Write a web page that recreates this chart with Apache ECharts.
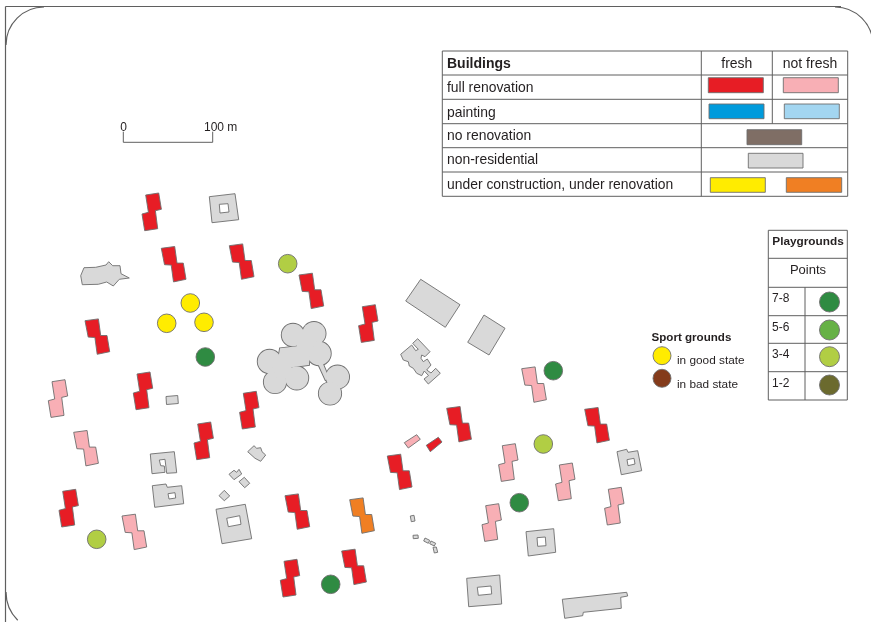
<!DOCTYPE html>
<html>
<head>
<meta charset="utf-8">
<style>html,body{margin:0;padding:0;background:#fff}#c{width:871px;height:622px;filter:blur(0.3px)}</style>
<script src="https://cdn.jsdelivr.net/npm/echarts@6/dist/echarts.min.js"></script>
</head>
<body>
<div id="c"></div>
<script>
// ---- map data, in map units (1 unit = 1 px of the sheet) ----
const footprintA = [[0,0],[13.4,-1.8],[15.7,14.8],[22,14.8],[24.7,31],[12.2,33.6],[9.9,16.8],[3.2,16.4]];
const footprintB = [[0,0],[13,-2],[15.7,14.3],[9.7,15.7],[12,33.7],[-1,35.7],[-3.7,19],[2.7,17.3]];

const freshFullA = [[161.3,248.3],[229.3,245.7],[85,320.7],[299,275],[387.3,456],[285,495.7],[341.7,551],[446.7,408.3],[584.7,409.3]];
const freshFullB = [[145.7,195],[137,374],[362.3,306.7],[243.3,393.3],[197.7,424],[62.7,491.3],[284,561.3]];
const staleFullA = [[73.7,432.3],[122,516],[521.7,368.7]];
const staleFullB = [[52,381.7],[502.3,445.7],[559.3,465],[485.7,505.7],[608.3,489.3]];
const staleRenovationA = [[349.7,499.7]];

const smallStale = [[[404.3,442.7],[416.7,434.7],[420.3,439.3],[408.3,448]]];
const smallFresh = [[[426.3,445.3],[438.3,437.3],[442,442],[430.3,451.7]]];

const nonResidential = [
  [[209.3,196.7],[235,193.7],[238.7,219.7],[212,222.7]],
  [[80.7,275.7],[84,267.7],[95.7,267.3],[106,265],[108.7,261.7],[112.7,265.7],[120,265.7],[121,273.7],[129.3,278],[119.3,279.3],[113.3,286],[106.7,282],[98.3,284.3],[82.3,284.7]],
  [[420.7,279.3],[460,304.7],[445.3,327.3],[405.7,301]],
  [[484,315],[505,328.3],[489,355],[467.7,342.3]],
  [[400.7,354.3],[411.7,345],[415.7,350.7],[418.3,349.3],[412.7,343.3],[417.7,338.7],[430,351.7],[425,356.7],[421.7,355],[421,358.3],[423.3,361.7],[427.3,359],[431,365],[426.7,370],[431,373],[435.7,368.3],[440.3,373.3],[428.3,384],[424,379],[428.5,375.5],[424.3,371],[421.7,375.7],[416.7,373.3],[413.3,368.3],[409.3,366],[408.3,361.7],[403.3,360]],
  [[166,396.5],[177.7,395.5],[178.3,403.5],[166.5,404.5]],
  [[150.3,454],[174.3,451.7],[176.7,472.7],[166.7,473.3],[165,459.3],[159.3,460],[160.7,465.7],[164.3,466],[165,472.3],[152,473.7]],
  [[152.3,485.7],[166,484],[167.3,487.3],[181.7,485.7],[183.7,503.7],[154.7,507.3]],
  [[216,509.3],[245.3,504.3],[251.7,538.7],[222,543.7]],
  [[219,495.7],[224.3,490.3],[229.7,496],[224.3,500.7]],
  [[239,481.7],[244.3,477.3],[249.7,483.3],[244.7,487.7]],
  [[229,474.3],[234,470.3],[236.7,472.3],[239,469.3],[241.7,474],[234,479.7]],
  [[247.7,451.7],[254,445.7],[256.7,448.3],[260.7,447.7],[262,451.7],[265.7,455],[260.7,461.3],[255,458.3]],
  [[410.3,516],[414,515.3],[415,521],[411.3,521.7]],
  [[413,535.3],[418,535],[418.3,538.3],[413.3,538.7]],
  [[425,538],[429.7,540.3],[428.3,543.3],[423.7,541]],
  [[431,541],[435.7,543.3],[434.3,546],[429.7,543.7]],
  [[433,547.3],[436.3,547],[437.7,552.3],[434.3,553]],
  [[526,531.7],[553.7,528.7],[555.7,552.3],[528.3,556]],
  [[466.7,578.3],[499.7,575],[501.7,604],[468.7,606.7]],
  [[562.3,599.3],[626.7,592.3],[627.7,596],[620.7,597.3],[621.3,608.3],[583.3,612.3],[582.7,615.7],[564.7,618.3]],
  [[617,451.7],[626.7,449.3],[628,452.3],[637.7,450.7],[641.7,470.7],[621.3,474.7]]
];
const courtyards = [
  [[219.3,204.3],[228,203.7],[229,212],[220,213]],
  [[168,493.7],[175,492.7],[175.7,498],[169,499]],
  [[226.7,518.3],[239.7,515.7],[241,524.3],[228.3,526.7]],
  [[537,537.7],[545.3,537],[546,545.7],[537.7,546.3]],
  [[477.3,587.3],[491,586],[491.7,594],[478.3,595.3]],
  [[627,459.7],[634,458.3],[635,464],[628,465.7]]
];
// clover-shaped building: lobes [x, y, r] and its body
const cloverLobes = [[293,335,11.3],[314,333.5,11.6],[319,353.5,11.8],[269.5,361.5,11.8],[275,382,11.2],[296.7,378,11.6],[337.5,377,11.6],[330,393.5,11.2]];
const cloverBody = [[280,348.3],[296.7,346.3],[300,335],[316.7,341.7],[310,352.7],[309,365],[291.7,367.3],[290,378.3],[276.7,378.3],[270,361.7],[278.3,358.3]];
const cloverLink = [[318.3,364.3],[322.7,363.3],[329,378.3],[325.5,380]];

const goodCourts = [[190.3,303],[166.7,323.3],[204,322.3]];
const playgrounds78 = [[205.3,357],[330.7,584.3],[553.3,370.7],[519.3,502.7]];
const playgrounds34 = [[287.7,263.7],[96.7,539.3],[543.3,444]];
const markRadius = [9.3];

// ---- legend contents ----
const buildingsTitle = 'Buildings';
const buildingHeads = ['fresh','not fresh'];
const buildingRows = ['full renovation','painting','no renovation','non-residential','under construction, under renovation'];
const tableRowLines = [51,75,99.3,123.7,147.7,172,196.3];
const tableColLines = [442.3,701.3,772.3,847.7];
const swatches = [
  ['#E71D25',708.3,77.7,763.3,92.7],['#F8AFB5',783.3,77.7,838.3,92.7],
  ['#009BDC',709,104,764,118.7],['#A3D6F1',784.3,104,839.3,118.7],
  ['#7F6E65',747,129.7,801.7,144.7],['#D9D9D9',748.3,153.3,803,168],
  ['#FFEC00',710.3,177.7,765.3,192.3],['#F07F23',786.3,177.7,841.7,192.3]
];
const playTitle = 'Playgrounds';
const playSub = 'Points';
const playClasses = ['7-8','5-6','3-4','1-2'];
const playColours = ['#2F8B42','#66B146','#B1CE44','#6B6A2E'];
const playRowLines = [230.3,258.3,287.3,315.7,343.3,371.7,400];
const playColLines = [768.3,805,847.3];
const sportTitle = 'Sport grounds';
const sportLabels = ['in good state','in bad state'];
const sportColours = ['#FFEC00','#843B1B'];
const scaleLabels = ['0','100 m'];

const COL = {red:'#E71D25',pink:'#F8AFB5',orange:'#F07F23',grey:'#D9D9D9',edge:'#6e6e6e',line:'#5f5f5f',text:'#231F20'};
const FONT = '"Liberation Sans", Arial, sans-serif';

// ---- assemble ----
const place = (anchors, fp) => anchors.map(a => fp.map(p => [a[0]+p[0], a[1]+p[1]]));
const polys = [];
const add = (list, fill) => list.forEach(pts => polys.push({pts, fill}));
add(nonResidential, COL.grey);
add(courtyards, '#ffffff');
add(place(freshFullA, footprintA), COL.red);
add(place(freshFullB, footprintB), COL.red);
add(place(staleFullA, footprintA), COL.pink);
add(place(staleFullB, footprintB), COL.pink);
add(place(staleRenovationA, footprintA), COL.orange);
add(smallStale, COL.pink);
add(smallFresh, COL.red);
swatches.forEach(s => polys.push({pts:[[s[1],s[2]],[s[3],s[2]],[s[3],s[4]],[s[1],s[4]]], fill:s[0]}));

const dots = [];
goodCourts.forEach(c => dots.push([c[0],c[1],markRadius[0],'#FFEC00']));
playgrounds78.forEach(c => dots.push([c[0],c[1],markRadius[0],'#2F8B42']));
playgrounds34.forEach(c => dots.push([c[0],c[1],markRadius[0],'#B1CE44']));
[302,330,356.7,385].forEach((y,i) => dots.push([829.5,y,10,playColours[i]]));
[355.7,378.3].forEach((y,i) => dots.push([662,y,9,sportColours[i]]));

const lines = [];
const tl = (a,b,w) => lines.push({a,b,w});
tableRowLines.forEach(y => tl([tableColLines[0],y],[tableColLines[3],y]));
tl([tableColLines[0],tableRowLines[0]],[tableColLines[0],tableRowLines[6]]);
tl([tableColLines[1],tableRowLines[0]],[tableColLines[1],tableRowLines[6]]);
tl([tableColLines[2],tableRowLines[0]],[tableColLines[2],tableRowLines[3]]);
tl([tableColLines[3],tableRowLines[0]],[tableColLines[3],tableRowLines[6]]);
playRowLines.forEach(y => tl([playColLines[0],y],[playColLines[2],y]));
tl([playColLines[0],playRowLines[0]],[playColLines[0],playRowLines[6]]);
tl([playColLines[2],playRowLines[0]],[playColLines[2],playRowLines[6]]);
tl([playColLines[1],playRowLines[2]],[playColLines[1],playRowLines[6]]);
// scale bar
tl([123.3,131.7],[123.3,142.3]); tl([123.3,142.3],[212.7,142.3]); tl([212.7,131.7],[212.7,142.3]);
// sheet frame
tl([5.5,6.5],[5.5,622],1.2); tl([5.5,6.5],[841,6.5],1.2);

const arcs = [[44,45,38,Math.PI,Math.PI*1.5],[835,45,38,Math.PI*1.5,Math.PI*2],[46,592,40,Math.PI*0.75,Math.PI]];

const texts = [];
const tx = (s,x,y,size,bold,align) => texts.push({s,x,y,size,bold,align:align||'left'});
tx(buildingsTitle,447,64.5,14,true);
tx(buildingHeads[0],736.8,64.5,14,false,'center');
tx(buildingHeads[1],810,64.5,14,false,'center');
[88,113,136.5,160.5,185].forEach((y,i) => tx(buildingRows[i],447,y,13.9,false));
tx(playTitle,808,241.5,11.8,true,'center');
tx(playSub,808,270.5,13,false,'center');
[299,327.5,355,383.5].forEach((y,i) => tx(playClasses[i],772,y,12,false));
tx(sportTitle,651.5,337.5,11.6,true);
[360.5,384.5].forEach((y,i) => tx(sportLabels[i],677,y,11.8,false));
tx(scaleLabels[0],123.5,127.5,12,false,'center');
tx(scaleLabels[1],204,127.5,12,false);

const idx = a => a.map((_,i) => [i]);
const base = {type:'custom', coordinateSystem:'cartesian2d', silent:true, clip:false, animation:false};
const polyItem = (api, pts, style) => ({type:'polygon', shape:{points:pts.map(p => api.coord(p))}, style});
const circItem = (api, c, style) => { const p = api.coord([c[0],c[1]]); return {type:'circle', shape:{cx:p[0],cy:p[1],r:c[2]}, style}; };

const clover = [
  ...cloverLobes.map(c => ({c})), {p:cloverBody}, {p:cloverLink}
];

const option = {
  backgroundColor:'#fff',
  animation:false,
  grid:{left:0,right:0,top:0,bottom:0},
  xAxis:{type:'value',min:0,max:871,show:false},
  yAxis:{type:'value',min:0,max:622,inverse:true,show:false},
  series:[
    // clover outline pass, then its fill pass merges the lobes
    {...base, z:2, data:idx(clover), renderItem:(o,api)=>{const s=clover[api.value(0)];const st={fill:COL.grey,stroke:COL.edge,lineWidth:1.8};return s.c?circItem(api,s.c,st):polyItem(api,s.p,st);}},
    {...base, z:3, data:idx(clover), renderItem:(o,api)=>{const s=clover[api.value(0)];const st={fill:COL.grey};return s.c?circItem(api,s.c,st):polyItem(api,s.p,st);}},
    {...base, z:4, data:idx(polys), renderItem:(o,api)=>{const s=polys[api.value(0)];return polyItem(api,s.pts,{fill:s.fill,stroke:COL.edge,lineWidth:0.9});}},
    {...base, z:5, data:idx(dots), renderItem:(o,api)=>{const d=dots[api.value(0)];return circItem(api,d,{fill:d[3],stroke:COL.edge,lineWidth:0.9});}},
    {...base, z:6, data:idx(lines), renderItem:(o,api)=>{const l=lines[api.value(0)];const a=api.coord(l.a),b=api.coord(l.b);return {type:'line',shape:{x1:a[0],y1:a[1],x2:b[0],y2:b[1]},style:{stroke:COL.line,lineWidth:l.w||1,fill:null}};}},
    {...base, z:6, data:idx(arcs), renderItem:(o,api)=>{const c=arcs[api.value(0)];const p=api.coord([c[0],c[1]]);return {type:'arc',shape:{cx:p[0],cy:p[1],r:c[2],startAngle:c[3],endAngle:c[4]},style:{stroke:COL.line,lineWidth:1.2,fill:null}};}},
    {...base, z:7, data:idx(texts), renderItem:(o,api)=>{const t=texts[api.value(0)];const p=api.coord([t.x,t.y]);return {type:'text',style:{x:p[0],y:p[1],text:t.s,fill:COL.text,font:(t.bold?'bold ':'')+t.size+'px '+FONT,textAlign:t.align,textVerticalAlign:'middle'}};}}
  ]
};
echarts.init(document.getElementById('c'),null,{renderer:'canvas'}).setOption(option);
</script>
</body>
</html>
